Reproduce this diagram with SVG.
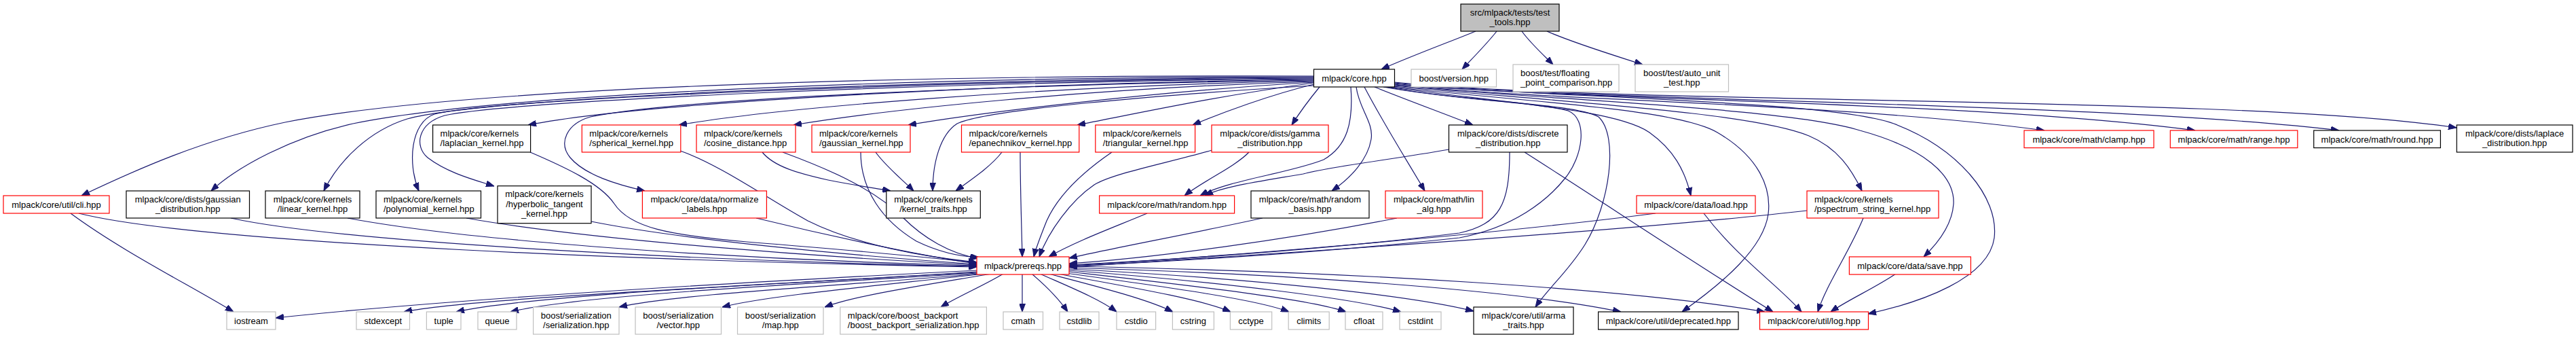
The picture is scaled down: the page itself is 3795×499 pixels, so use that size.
<svg xmlns="http://www.w3.org/2000/svg" width="3795" height="499" viewBox="0 0 3795 499">
<style>
rect{fill:#fff;stroke-width:1.2}
.r{stroke:#ff0000}.b{stroke:#000}.g{stroke:#bfbfbf}
text{font-family:"Liberation Sans",Arial,Helvetica,sans-serif;font-size:13px;fill:#000}
.c{text-anchor:middle}
#edges path{fill:none;stroke:#191970;stroke-width:1.2;marker-end:url(#a)}
</style>
<defs>
<marker id="a" viewBox="0 0 12 9" refX="12" refY="4.5" markerWidth="12" markerHeight="9" markerUnits="userSpaceOnUse" orient="auto"><path d="M0,0 L12,4.5 L0,9 z" fill="#191970" stroke="#191970" stroke-width="1"/></marker>
</defs>
<rect x="0" y="0" width="3795" height="499" style="fill:#fff;stroke:none"/>
<g id="edges">
<path d="M2174,46 C2140,60 2080,82 2035,102"/>
<path d="M2205,46 C2190,65 2170,85 2154,102"/>
<path d="M2242,46 C2255,64 2275,82 2288,95"/>
<path d="M2279,46 C2320,64 2380,82 2420,95"/>
<path d="M1935.5,112 C1400,110 700,125 420,180 C300,205 200,250 120,288"/>
<path d="M1935.5,113 C1400,113 750,135 520,182 C430,202 350,245 311,281"/>
<path d="M1935.5,114 C1400,116 720,142 600,175 C545,192 500,235 477,281"/>
<path d="M1935.5,115 C1400,118 730,145 640,168 C605,180 600,240 617,281"/>
<path d="M1935.5,116 C1400,120 750,148 655,170 C615,182 610,215 630,232 C660,255 700,265 728,274"/>
<path d="M1935.5,117 C1500,122 950,150 778,184"/>
<path d="M1935.5,118 C1500,124 1000,145 870,172 C835,182 822,210 840,232 C862,258 910,272 950,281"/>
<path d="M1935.5,119 C1550,126 1150,158 1000,184"/>
<path d="M1935.5,120 C1600,130 1300,162 1169,184"/>
<path d="M1935.5,121 C1700,135 1450,165 1338,184"/>
<path d="M1935.5,126 C1700,140 1450,162 1410,182 C1385,198 1374,240 1374,281"/>
<path d="M1935.5,122 C1800,140 1680,166 1587,184"/>
<path d="M1935.5,124 C1870,140 1800,166 1757,184"/>
<path d="M1944,128 C1930,145 1915,165 1903,184"/>
<path d="M1990,128 C1994,180 1985,215 1950,235 C1900,255 1810,265 1768,288"/>
<path d="M2134.5,220 C2050,235 1960,245 1920,256 C1850,268 1800,275 1775,288"/>
<path d="M1840,224 C1820,245 1770,268 1745,288"/>
<path d="M1998,128 C2002,160 2024,180 2020,205 C2015,235 1990,262 1962,281"/>
<path d="M2010,128 C2040,185 2075,240 2099,281"/>
<path d="M2025,128 C2080,150 2130,168 2170,184"/>
<path d="M2038,128 C2150,148 2260,150 2310,163 C2340,175 2332,230 2306,262 C2280,295 2230,335 2150,350 C1950,372 1700,386 1575,392"/>
<path d="M2042,128 C2160,150 2320,152 2355,172 C2385,200 2372,300 2335,360 C2310,400 2280,425 2262,452"/>
<path d="M2046,128 C2200,150 2380,160 2430,195 C2465,220 2482,250 2491,288"/>
<path d="M2049,128 C2250,150 2470,160 2530,195 C2590,230 2610,275 2605,315 C2598,365 2540,415 2478,459"/>
<path d="M2051,127 C2300,150 2580,165 2665,200 C2708,218 2728,250 2743,281"/>
<path d="M2053,126 C2300,148 2640,160 2740,192 C2835,218 2880,258 2878,300 C2876,330 2857,356 2834,378"/>
<path d="M2054,125 C2350,145 2700,150 2790,182 C2885,218 2945,290 2938,350 C2930,410 2830,445 2752,462"/>
<path d="M2054,124 C2250,148 2700,150 3012,192"/>
<path d="M2054,123 C2300,148 2900,148 3234,192"/>
<path d="M2054,122 C2350,150 3100,150 3446,192"/>
<path d="M2054,121 C2400,155 3300,140 3619,188"/>
<path d="M104,314 C180,370 280,420 344,459"/>
<path d="M116,314 C300,360 1000,385 1439,393"/>
<path d="M340,321 C520,360 1100,386 1439,392"/>
<path d="M512,321 C720,360 1150,384 1439,391"/>
<path d="M687,321 C860,352 1200,378 1439,390"/>
<path d="M871,326 C1000,352 1250,376 1439,389"/>
<path d="M781,224 C830,245 885,270 905,300 C928,335 985,346 1100,356 C1250,368 1380,380 1439,387"/>
<path d="M1114,321 C1200,342 1350,376 1439,388"/>
<path d="M1002,222 C1060,242 1130,292 1190,325 C1260,360 1360,378 1439,386"/>
<path d="M1153,224 C1210,245 1285,275 1330,320 C1360,350 1400,374 1441,380"/>
<path d="M1123,224 C1140,245 1175,255 1220,265 C1260,273 1290,277 1312,281"/>
<path d="M1268,224 C1268,280 1300,325 1350,355 C1385,372 1415,378 1443,379"/>
<path d="M1290,224 C1305,245 1330,265 1346,281"/>
<path d="M1476,224 C1460,245 1430,265 1408,281"/>
<path d="M1503,224 C1503,280 1505,330 1506,378"/>
<path d="M1638,224 C1600,250 1560,285 1542,325 C1532,350 1526,365 1523,378"/>
<path d="M1786,221 C1720,240 1640,255 1612,272 C1578,295 1545,340 1531,378"/>
<path d="M1690,314 C1640,335 1585,355 1545,378"/>
<path d="M1860,321 C1750,345 1640,365 1575,380"/>
<path d="M2058,321 C1900,352 1700,380 1575,388"/>
<path d="M2224,224 C2224,300 2210,330 2150,343 C1950,368 1700,384 1575,390"/>
<path d="M2439,314 C2200,345 1800,378 1575,391"/>
<path d="M2662,310 C2400,340 1900,372 1575,393"/>
<path d="M2246,224 C2350,290 2500,390 2612,459"/>
<path d="M2510,314 C2560,380 2620,420 2654,459"/>
<path d="M2745,321 C2725,370 2690,420 2678,459"/>
<path d="M2793,403 C2760,425 2725,440 2697,459"/>
<path d="M1439,398 C1000,420 620,445 406,468"/>
<path d="M1439,400 C1100,422 700,438 595,459"/>
<path d="M1439,401 C1100,420 780,435 672,459"/>
<path d="M1440,402 C1150,420 850,435 752,459"/>
<path d="M1443,403 C1250,420 1000,432 912,452"/>
<path d="M1450,403 C1300,420 1130,435 1064,452"/>
<path d="M1460,403 C1360,420 1260,435 1215,452"/>
<path d="M1478,403 C1450,420 1410,437 1386,452"/>
<path d="M1506,403 L1506,459"/>
<path d="M1520,403 C1540,420 1560,440 1573,459"/>
<path d="M1532,403 C1570,420 1620,440 1645,459"/>
<path d="M1545,403 C1610,420 1690,440 1728,459"/>
<path d="M1558,403 C1650,420 1770,440 1813,459"/>
<path d="M1570,402 C1700,420 1850,440 1899,459"/>
<path d="M1575,400 C1750,420 1930,440 1983,459"/>
<path d="M1575,398 C1800,415 2000,440 2064,459"/>
<path d="M1575,396 C1850,410 2080,435 2171,458"/>
<path d="M1575,394 C1950,405 2250,430 2388,459"/>
<path d="M1575,392 C2000,400 2400,425 2600,459"/>
</g>
<g id="root"><rect x="2152" y="6" width="145" height="40" class="b" style="fill:#bfbfbf"/><text class="c" x="2224.5" y="23.4">src/mlpack/tests/test</text><text class="c" x="2224.5" y="37.4">_tools.hpp</text></g>
<g id="core"><rect x="1935.5" y="102" width="119" height="26" class="b"/><text class="c" x="1995" y="119.7">mlpack/core.hpp</text></g>
<g id="version"><rect x="2079" y="102" width="125.5" height="26" class="g"/><text class="c" x="2141.75" y="119.7">boost/version.hpp</text></g>
<g id="floating"><rect x="2229" y="95" width="156" height="40" class="g"/><text x="2240" y="112.4">boost/test/floating</text><text x="2240" y="126.4">_point_comparison.hpp</text></g>
<g id="autounit"><rect x="2409" y="95" width="137.5" height="40" class="g"/><text class="c" x="2477.75" y="112.4">boost/test/auto_unit</text><text class="c" x="2477.75" y="126.4">_test.hpp</text></g>
<g id="cli"><rect x="5" y="288" width="156" height="26" class="r"/><text class="c" x="83" y="305.7">mlpack/core/util/cli.hpp</text></g>
<g id="gaussdist"><rect x="186" y="281" width="181.5" height="40" class="b"/><text class="c" x="276.75" y="298.4">mlpack/core/dists/gaussian</text><text class="c" x="276.75" y="312.4">_distribution.hpp</text></g>
<g id="linear"><rect x="391" y="281" width="139" height="40" class="b"/><text class="c" x="460.5" y="298.4">mlpack/core/kernels</text><text class="c" x="460.5" y="312.4">/linear_kernel.hpp</text></g>
<g id="polynomial"><rect x="554" y="281" width="154.5" height="40" class="b"/><text x="565" y="298.4">mlpack/core/kernels</text><text x="565" y="312.4">/polynomial_kernel.hpp</text></g>
<g id="laplacian"><rect x="637.6" y="184" width="144" height="40" class="b"/><text x="648.6" y="201.4">mlpack/core/kernels</text><text x="648.6" y="215.4">/laplacian_kernel.hpp</text></g>
<g id="hyperbolic"><rect x="733" y="273.7" width="138" height="55" class="b"/><text class="c" x="802" y="290">mlpack/core/kernels</text><text class="c" x="802" y="304.5">/hyperbolic_tangent</text><text class="c" x="802" y="319">_kernel.hpp</text></g>
<g id="spherical"><rect x="857.3" y="184" width="145.5" height="40" class="r"/><text x="868.3" y="201.4">mlpack/core/kernels</text><text x="868.3" y="215.4">/spherical_kernel.hpp</text></g>
<g id="cosine"><rect x="1026" y="184" width="146" height="40" class="r"/><text x="1037" y="201.4">mlpack/core/kernels</text><text x="1037" y="215.4">/cosine_distance.hpp</text></g>
<g id="gausskernel"><rect x="1196" y="184" width="145" height="40" class="r"/><text x="1207" y="201.4">mlpack/core/kernels</text><text x="1207" y="215.4">/gaussian_kernel.hpp</text></g>
<g id="normalize"><rect x="946.4" y="281" width="183" height="40" class="r"/><text class="c" x="1037.9" y="298.4">mlpack/core/data/normalize</text><text class="c" x="1037.9" y="312.4">_labels.hpp</text></g>
<g id="epanechnikov"><rect x="1416.5" y="184" width="173.3" height="40" class="r"/><text x="1427.5" y="201.4">mlpack/core/kernels</text><text x="1427.5" y="215.4">/epanechnikov_kernel.hpp</text></g>
<g id="triangular"><rect x="1613.8" y="184" width="146.8" height="40" class="r"/><text x="1624.8" y="201.4">mlpack/core/kernels</text><text x="1624.8" y="215.4">/triangular_kernel.hpp</text></g>
<g id="gamma"><rect x="1785" y="184" width="172" height="40" class="r"/><text class="c" x="1871" y="201.4">mlpack/core/dists/gamma</text><text class="c" x="1871" y="215.4">_distribution.hpp</text></g>
<g id="kerneltraits"><rect x="1305.8" y="281" width="138.5" height="40" class="b"/><text class="c" x="1375" y="298.4">mlpack/core/kernels</text><text class="c" x="1375" y="312.4">/kernel_traits.hpp</text></g>
<g id="prereqs"><rect x="1439" y="378" width="136" height="26" class="r"/><text class="c" x="1507" y="395.7">mlpack/prereqs.hpp</text></g>
<g id="random"><rect x="1619.6" y="288" width="199" height="26" class="r"/><text class="c" x="1719.1" y="305.7">mlpack/core/math/random.hpp</text></g>
<g id="randombasis"><rect x="1843" y="281" width="174" height="40" class="b"/><text class="c" x="1930" y="298.4">mlpack/core/math/random</text><text class="c" x="1930" y="312.4">_basis.hpp</text></g>
<g id="linalg"><rect x="2041" y="281" width="143" height="40" class="r"/><text class="c" x="2112.5" y="298.4">mlpack/core/math/lin</text><text class="c" x="2112.5" y="312.4">_alg.hpp</text></g>
<g id="discrete"><rect x="2134.5" y="184" width="174.5" height="40" class="b"/><text class="c" x="2221.75" y="201.4">mlpack/core/dists/discrete</text><text class="c" x="2221.75" y="215.4">_distribution.hpp</text></g>
<g id="load"><rect x="2411" y="288" width="175" height="26" class="r"/><text class="c" x="2498.5" y="305.7">mlpack/core/data/load.hpp</text></g>
<g id="pspectrum"><rect x="2662" y="281" width="194" height="40" class="r"/><text x="2673" y="298.4">mlpack/core/kernels</text><text x="2673" y="312.4">/pspectrum_string_kernel.hpp</text></g>
<g id="save"><rect x="2724.4" y="378" width="179" height="26" class="r"/><text class="c" x="2813.9" y="395.7">mlpack/core/data/save.hpp</text></g>
<g id="log"><rect x="2592.5" y="459" width="160" height="26" class="r"/><text class="c" x="2672.5" y="476.7">mlpack/core/util/log.hpp</text></g>
<g id="deprecated"><rect x="2354.6" y="459" width="206.4" height="26" class="b"/><text class="c" x="2457.8" y="476.7">mlpack/core/util/deprecated.hpp</text></g>
<g id="armatraits"><rect x="2171" y="452" width="147" height="40" class="b"/><text class="c" x="2244.5" y="469.4">mlpack/core/util/arma</text><text class="c" x="2244.5" y="483.4">_traits.hpp</text></g>
<g id="clamp"><rect x="2982" y="192" width="191" height="25.6" class="r"/><text class="c" x="3077.5" y="209.5">mlpack/core/math/clamp.hpp</text></g>
<g id="range"><rect x="3197.3" y="192" width="187.5" height="25.6" class="r"/><text class="c" x="3291" y="209.5">mlpack/core/math/range.hpp</text></g>
<g id="round"><rect x="3408.7" y="192" width="186.7" height="25.6" class="b"/><text class="c" x="3502" y="209.5">mlpack/core/math/round.hpp</text></g>
<g id="laplace"><rect x="3619.3" y="184" width="170.7" height="40" class="b"/><text class="c" x="3704.6" y="201.4">mlpack/core/dists/laplace</text><text class="c" x="3704.6" y="215.4">_distribution.hpp</text></g>
<g id="iostream"><rect x="334" y="459" width="72" height="26" class="g"/><text class="c" x="370" y="476.7">iostream</text></g>
<g id="stdexcept"><rect x="525" y="459" width="78.5" height="26" class="g"/><text class="c" x="564.25" y="476.7">stdexcept</text></g>
<g id="tuple"><rect x="628.4" y="459" width="50.6" height="26" class="g"/><text class="c" x="653.7" y="476.7">tuple</text></g>
<g id="queue"><rect x="704" y="459" width="57" height="26" class="g"/><text class="c" x="732.5" y="476.7">queue</text></g>
<g id="serialization"><rect x="785.6" y="452" width="126.4" height="40" class="g"/><text class="c" x="848.8" y="469.4">boost/serialization</text><text class="c" x="848.8" y="483.4">/serialization.hpp</text></g>
<g id="vector"><rect x="936" y="452" width="126.5" height="40" class="g"/><text class="c" x="999.25" y="469.4">boost/serialization</text><text class="c" x="999.25" y="483.4">/vector.hpp</text></g>
<g id="map"><rect x="1086.5" y="452" width="126.5" height="40" class="g"/><text class="c" x="1149.75" y="469.4">boost/serialization</text><text class="c" x="1149.75" y="483.4">/map.hpp</text></g>
<g id="backport"><rect x="1237.8" y="452" width="215.6" height="40" class="g"/><text x="1248.8" y="469.4">mlpack/core/boost_backport</text><text x="1248.8" y="483.4">/boost_backport_serialization.hpp</text></g>
<g id="cmath"><rect x="1478" y="459" width="58.5" height="26" class="g"/><text class="c" x="1507.25" y="476.7">cmath</text></g>
<g id="cstdlib"><rect x="1561" y="459" width="58" height="26" class="g"/><text class="c" x="1590" y="476.7">cstdlib</text></g>
<g id="cstdio"><rect x="1645" y="459" width="57.6" height="26" class="g"/><text class="c" x="1673.8" y="476.7">cstdio</text></g>
<g id="cstring"><rect x="1727.4" y="459" width="61" height="26" class="g"/><text class="c" x="1757.9" y="476.7">cstring</text></g>
<g id="cctype"><rect x="1812.4" y="459" width="61.3" height="26" class="g"/><text class="c" x="1843" y="476.7">cctype</text></g>
<g id="climits"><rect x="1898.2" y="459" width="60" height="26" class="g"/><text class="c" x="1928.2" y="476.7">climits</text></g>
<g id="cfloat"><rect x="1982" y="459" width="55" height="26" class="g"/><text class="c" x="2009.5" y="476.7">cfloat</text></g>
<g id="cstdint"><rect x="2062" y="459" width="61" height="26" class="g"/><text class="c" x="2092.5" y="476.7">cstdint</text></g>
</svg>
